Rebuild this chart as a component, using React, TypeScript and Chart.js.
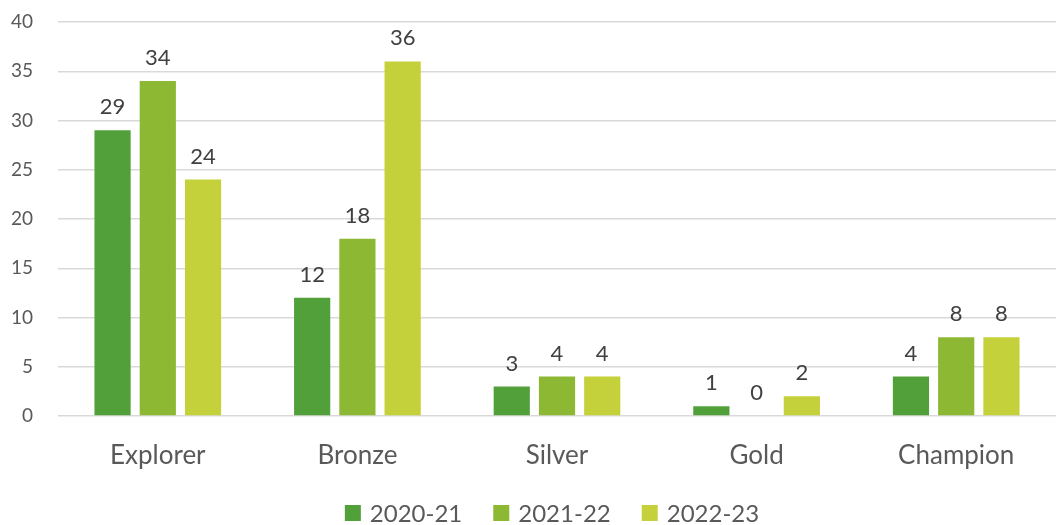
import React, { useEffect, useRef } from "react";
import { Chart, registerables } from "chart.js";

Chart.register(...registerables);

const categories = ["Explorer", "Bronze", "Silver", "Gold", "Champion"];
const seriesNames = ["2020-21", "2021-22", "2022-23"];
const values2020 = [29, 12, 3, 1, 4];
const values2021 = [34, 18, 4, 0, 8];
const values2022 = [24, 36, 4, 2, 8];
const yTicks = [0, 5, 10, 15, 20, 25, 30, 35, 40];

const colors = ["#52A03A", "#8DB833", "#C4D13B"];
const FONT = "Lato, 'Open Sans', sans-serif";
const AREA_TOP = 22;

const fixTop = {
  id: "fixTop",
  afterLayout(chart: any) {
    const y = chart.scales.y;
    const a = chart.chartArea;
    a.top = AREA_TOP;
    a.height = a.bottom - AREA_TOP;
    y.top = AREA_TOP;
    y.height = y.bottom - AREA_TOP;
    y.configure();
  },
};

const dataLabels = {
  id: "dataLabels",
  afterDatasetsDraw(chart: any) {
    const ctx = chart.ctx;
    ctx.save();
    ctx.font = `22px ${FONT}`;
    ctx.fillStyle = "#404040";
    ctx.textAlign = "center";
    ctx.textBaseline = "bottom";
    chart.data.datasets.forEach((ds: any, i: number) => {
      const meta = chart.getDatasetMeta(i);
      meta.data.forEach((bar: any, j: number) => {
        ctx.fillText(String(ds.data[j]), bar.x, bar.y - 12);
      });
    });
    ctx.restore();
  },
};

const customLegend = {
  id: "customLegend",
  afterDraw(chart: any) {
    const ctx = chart.ctx;
    const box = 16;
    const gapText = 9;
    const gapItem = 31;
    const y = 513;
    ctx.save();
    ctx.font = `24px ${FONT}`;
    ctx.textBaseline = "middle";
    ctx.textAlign = "left";
    const widths = chart.data.datasets.map((ds: any) => ctx.measureText(ds.label).width);
    const total =
      widths.reduce((a: number, b: number) => a + b, 0) +
      widths.length * (box + gapText) +
      (widths.length - 1) * gapItem;
    const area = chart.chartArea;
    let x = (area.left + area.right) / 2 - 5 - total / 2;
    chart.data.datasets.forEach((ds: any, i: number) => {
      ctx.fillStyle = ds.backgroundColor;
      ctx.fillRect(x, y - box / 2, box, box);
      x += box + gapText;
      ctx.fillStyle = "#595959";
      ctx.fillText(ds.label, x, y + 1);
      x += widths[i] + gapItem;
    });
    ctx.restore();
  },
};

export default function App() {
  const ref = useRef<HTMLCanvasElement>(null);
  useEffect(() => {
    document.body.style.margin = "0";
    const chart = new Chart(ref.current!, {
      type: "bar",
      data: {
        labels: categories,
        datasets: [values2020, values2021, values2022].map((d, i) => ({
          label: seriesNames[i],
          data: d,
          backgroundColor: colors[i],
          barPercentage: 0.8,
          categoryPercentage: 0.68,
        })),
      },
      options: {
        animation: false,
        responsive: true,
        maintainAspectRatio: false,
        layout: { autoPadding: false, padding: { top: 10, right: 6, left: 0, bottom: 52 } },
        scales: {
          x: {
            grid: { display: false, drawTicks: false },
            border: { display: false },
            ticks: { color: "#595959", font: { size: 26, family: FONT }, padding: 24 },
            afterFit: (s: any) => {
              s.height = 57;
            },
          },
          y: {
            min: 0,
            max: 40,
            afterBuildTicks: (axis: any) => {
              axis.ticks = yTicks.map((v) => ({ value: v }));
            },
            afterFit: (s: any) => {
              s.width = 58;
            },
            grid: { color: "#D9D9D9", drawTicks: false, lineWidth: 1.5 },
            border: { display: false },
            ticks: { color: "#595959", font: { size: 19, family: FONT }, padding: 25 },
          },
        },
        plugins: {
          legend: { display: false },
          tooltip: { enabled: false },
        },
      },
      plugins: [fixTop, dataLabels, customLegend],
    });
    return () => chart.destroy();
  }, []);
  return (
    <div style={{ position: "fixed", left: 0, top: 0, width: 1062, height: 525 }}>
      <canvas ref={ref} />
    </div>
  );
}
